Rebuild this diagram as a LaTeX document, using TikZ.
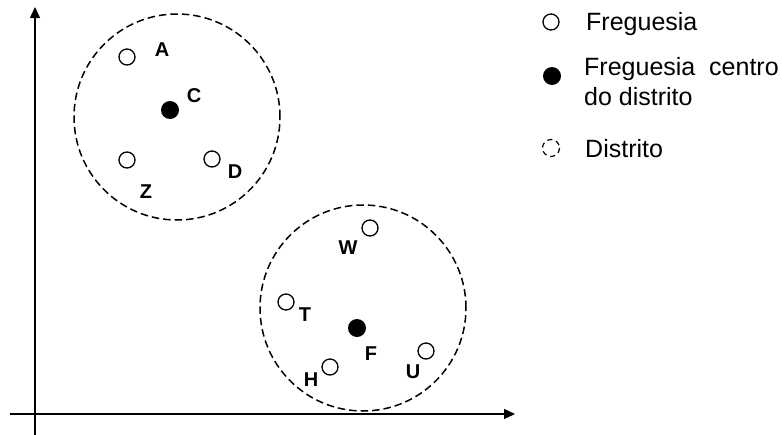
\documentclass[tikz,border=0pt]{standalone}
\usepackage{fontspec}
\setmainfont{Liberation Sans}
\usetikzlibrary{arrows.meta}
\tikzset{
  axis/.style={line width=1.3pt, -{Triangle[length=11pt,width=10pt]}},
  distr/.style={circle, draw, dashed, dash pattern=on 7.5pt off 4pt, line width=1.5pt, minimum size=206pt, inner sep=0pt},
  freg/.style={circle, draw, line width=1.3pt, fill=white, minimum size=16pt, inner sep=0pt},
  centro/.style={circle, fill=black, minimum size=18pt, inner sep=0pt},
  lbl/.style={font=\fontsize{20}{22}\selectfont\bfseries, inner sep=0pt},
  leg/.style={font=\fontsize{25}{30}\selectfont, anchor=base west, inner sep=0pt, align=left}
}
\begin{document}
\begin{tikzpicture}[x=1pt,y=-1pt]
\useasboundingbox (0,0) rectangle (782,434);
% axes
\coordinate (yb) at (35,436);
\coordinate (yt) at (35,7);
\coordinate (xl) at (10,414);
\coordinate (xr) at (515,414);
\draw[axis] (yb) -- (yt);
\draw[axis] (xl) -- (xr);
% districts
\node[distr] (d1) at (177,117) {};
\node[distr] (d2) at (363,308) {};
% district 1
\node[freg] (A) at (127,57) {};
\node[lbl] (lA) at (162,50) {A};
\node[centro] (C) at (170,110) {};
\node[lbl] (lC) at (194,96) {C};
\node[freg] (Z) at (127,160) {};
\node[lbl] (lZ) at (146,192) {Z};
\node[freg] (D) at (212,159) {};
\node[lbl] (lD) at (235,172) {D};
% district 2
\node[freg] (W) at (370,228) {};
\node[lbl] (lW) at (348,248) {W};
\node[freg] (T) at (286,302) {};
\node[lbl] (lT) at (305,315) {T};
\node[centro] (F) at (357,328) {};
\node[lbl] (lF) at (371,354) {F};
\node[freg] (H) at (330,367) {};
\node[lbl] (lH) at (311,380) {H};
\node[freg] (U) at (426,351) {};
\node[lbl] (lU) at (413,372) {U};
% legend
\node[freg] (k1) at (551,22) {};
\node[leg] (t1) at (586,30) {Freguesia};
\node[centro] (k2) at (552,76) {};
\node[leg, anchor=north west] (t2) at (584,57) {Freguesia\ \ centro\\do distrito};
\node[circle, draw, dashed, dash pattern=on 5pt off 4pt, line width=1.2pt, minimum size=17pt, inner sep=0pt, rotate=20] (k3) at (551,148) {};
\node[leg] (t3) at (585,157) {Distrito};
\end{tikzpicture}
\end{document}
